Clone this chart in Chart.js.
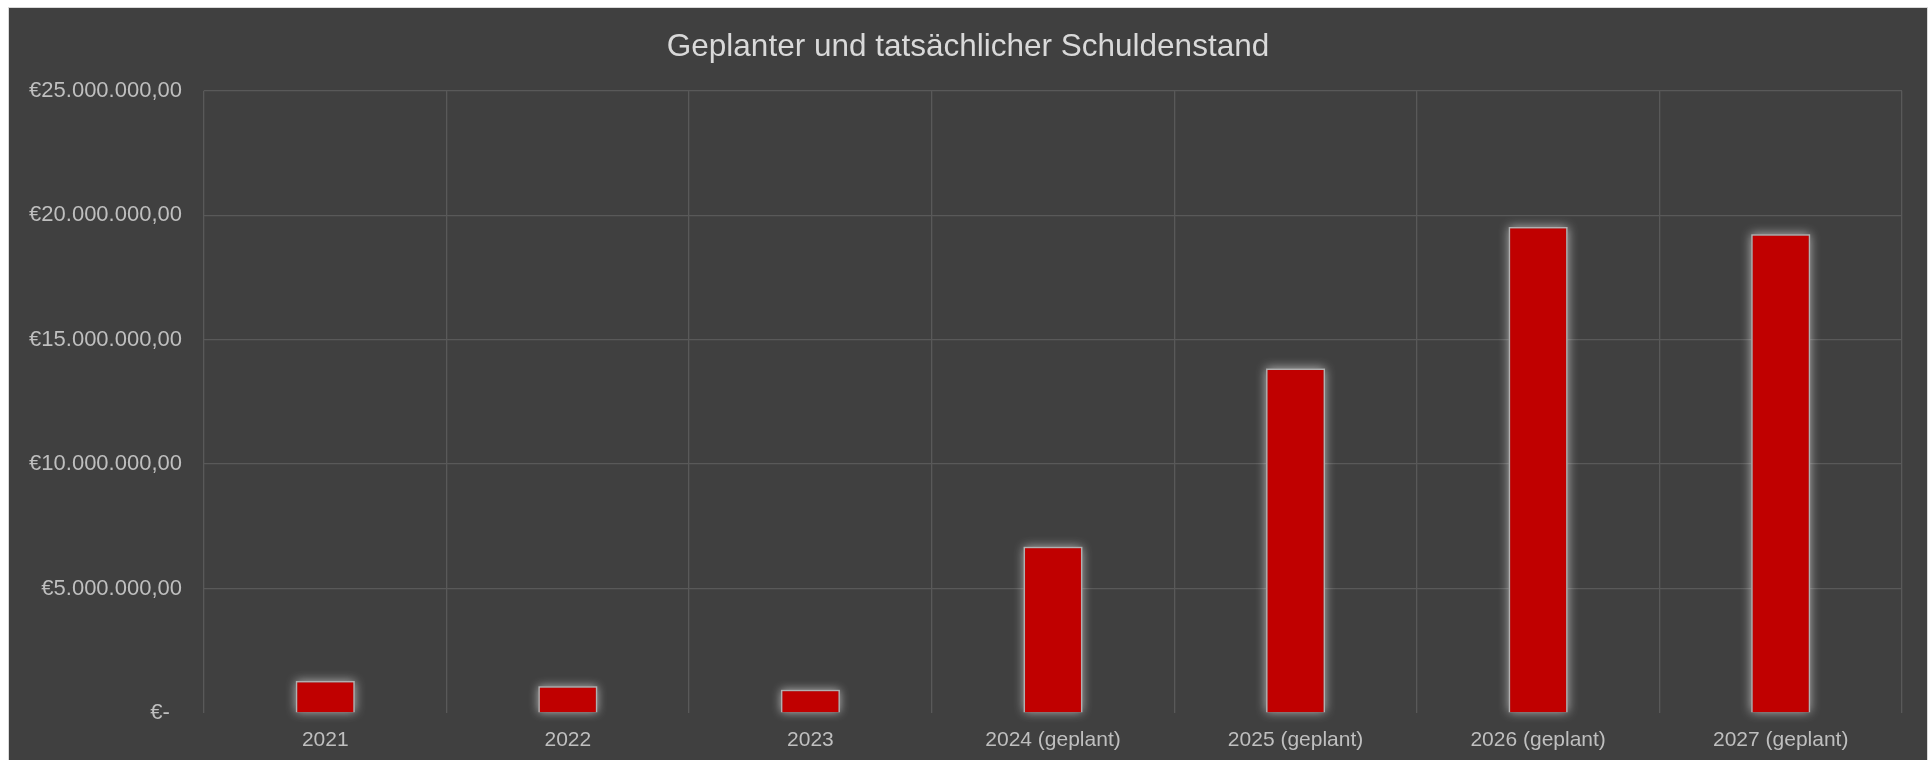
<!DOCTYPE html>
<html>
<head>
<meta charset="utf-8">
<script src="https://cdn.jsdelivr.net/npm/chart.js@4"></script>
<style>
  html, body { margin:0; padding:0; background:#ffffff; width:1932px; height:760px; overflow:hidden; }
  #frame { position:absolute; left:8px; top:7px; width:1918px; height:800px; background:#404040; border:1px solid #d9d9d9; }
  #wrap { position:absolute; left:0; top:0; width:1932px; height:760px; }
</style>
</head>
<body>
<div id="frame"></div>
<div id="wrap"><canvas id="c"></canvas></div>
<script>
const categories = ['2021', '2022', '2023', '2024 (geplant)', '2025 (geplant)', '2026 (geplant)', '2027 (geplant)'];
const schuldenstand = [1290000, 1070000, 930000, 6680000, 13840000, 19520000, 19230000];
const yTickValues = [0, 5000000, 10000000, 15000000, 20000000, 25000000];
const yTickLabels = ['€-  ', '€5.000.000,00', '€10.000.000,00', '€15.000.000,00', '€20.000.000,00', '€25.000.000,00'];
const chartTitle = 'Geplanter und tatsächlicher Schuldenstand';

const glow = {
  id: 'glow',
  afterLayout(chart) {
    // widen the label clip region of the y axis so labels are not cut by the layout padding
    chart.scales.y.left = 0;
  },
  beforeDatasetsDraw(chart) {
    const ctx = chart.ctx;
    const meta = chart.getDatasetMeta(0);
    ctx.save();
    ctx.shadowColor = 'rgba(255,255,255,0.6)';
    ctx.shadowBlur = 10;
    ctx.fillStyle = '#8a8a8a';
    meta.data.forEach(el => {
      const p = el.getProps(['x', 'y', 'base', 'width'], true);
      ctx.fillRect(p.x - p.width / 2, Math.min(p.y, p.base), p.width, Math.abs(p.base - p.y));
    });
    ctx.restore();
  }
};

new Chart(document.getElementById('c'), {
  type: 'bar',
  data: {
    labels: categories,
    datasets: [{
      data: schuldenstand,
      backgroundColor: '#C00000',
      borderColor: '#b0b0b0',
      borderWidth: 1.5,
      barPercentage: 0.243,
      categoryPercentage: 1
    }]
  },
  options: {
    responsive: true,
    maintainAspectRatio: false,
    devicePixelRatio: 1,
    animation: false,
    layout: { padding: { left: 34, right: 30, top: 0, bottom: 0 } },
    plugins: {
      legend: { display: false },
      tooltip: { enabled: false },
      title: {
        display: true,
        text: chartTitle,
        color: '#d9d9d9',
        font: { family: 'Liberation Sans', size: 31.5, weight: 'normal', lineHeight: 1.2 },
        padding: { top: 28.6, bottom: 24.3 }
      }
    },
    scales: {
      x: {
        offset: true,
        grid: { display: true, offset: true, color: '#595959', lineWidth: 1.3, drawTicks: false },
        border: { display: false },
        ticks: { color: '#bfbfbf', padding: 15, font: { family: 'Liberation Sans', size: 21, lineHeight: 1.2 }, maxRotation: 0, autoSkip: false },
        afterFit(scale) { scale.height = 47; }
      },
      y: {
        min: 0,
        max: 25000000,
        afterBuildTicks(scale) { scale.ticks = yTickValues.map(v => ({ value: v })); },
        grid: {
          color: ctx => (ctx.tick && ctx.tick.value === 0) ? 'rgba(0,0,0,0)' : '#595959',
          lineWidth: 1.3,
          drawTicks: false
        },
        border: { display: false },
        ticks: {
          color: '#bfbfbf',
          padding: 22,
          font: { family: 'Liberation Sans', size: 22, lineHeight: 1.2 },
          callback: (value) => {
            const i = yTickValues.indexOf(value);
            return i >= 0 ? yTickLabels[i] : '';
          }
        },
        afterFit(scale) { scale.width = 170; }
      }
    }
  },
  plugins: [glow]
});
</script>
</body>
</html>
